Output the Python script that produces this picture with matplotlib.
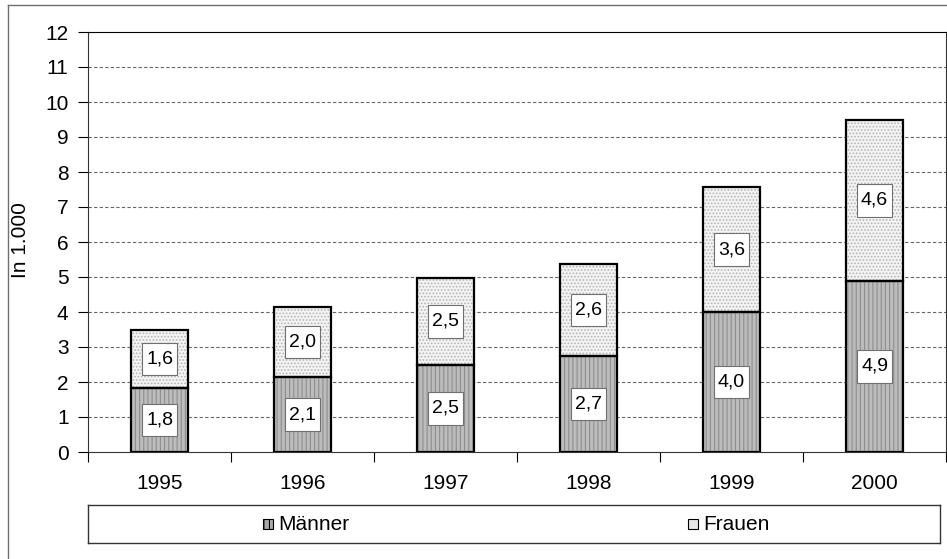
import matplotlib
matplotlib.use("Agg")
import matplotlib.pyplot as plt
from matplotlib.patches import Rectangle
from matplotlib.lines import Line2D
from matplotlib.path import Path
import numpy as np

plt.rcParams['font.family'] = ['Liberation Sans', 'DejaVu Sans']
plt.rcParams['hatch.linewidth'] = 0.8

# data (in 1.000)
years = ['1995', '1996', '1997', '1998', '1999', '2000']
maenner = [1.84, 2.14, 2.49, 2.74, 4.0, 4.89]
frauen = [1.64, 2.0, 2.48, 2.64, 3.57, 4.6]
labels_m = ['1,8', '2,1', '2,5', '2,7', '4,0', '4,9']
labels_f = ['1,6', '2,0', '2,5', '2,6', '3,6', '4,6']

W, H = 947, 559
fig = plt.figure(figsize=(W / 100, H / 100), dpi=100)
ax = fig.add_axes([88 / W, (H - 452) / H, 858 / W, 420 / H])

x = np.arange(len(years))
bw = 0.405

# hatched fills
ax.bar(x, maenner, bw, color='#bcbcbc', edgecolor='#8e8e8e', hatch='||||', linewidth=0, zorder=2)
ax.bar(x, frauen, bw, bottom=maenner, color='#f4f4f4', edgecolor='#b4b4b4', hatch='.....', linewidth=0, zorder=2)
# outlines
ax.bar(x, maenner, bw, fill=False, edgecolor='black', linewidth=1.6, zorder=3)
ax.bar(x, frauen, bw, bottom=maenner, fill=False, edgecolor='black', linewidth=1.6, zorder=3)


def label_box(x0, y0, width, height, mutation_size):
    # more padding above/below than left/right
    px = 0.2 * mutation_size
    py = 0.4 * mutation_size
    x0, y0 = x0 - px, y0 - py
    x1, y1 = x0 + width + 2 * px, y0 + height + 2 * py
    return Path([(x0, y0), (x1, y0), (x1, y1), (x0, y1), (x0, y0)], closed=True)


box = dict(boxstyle=label_box, facecolor='white', edgecolor='#707070', linewidth=0.8)
for i in range(len(years)):
    ax.text(x[i], maenner[i] / 2, labels_m[i], ha='center', va='center', fontsize=14, bbox=box, zorder=4)
    ax.text(x[i], maenner[i] + frauen[i] / 2, labels_f[i], ha='center', va='center', fontsize=14, bbox=box, zorder=4)

ax.set_xlim(-0.5, 5.5)
ax.set_ylim(0, 12)
ax.set_yticks(range(0, 13))
ax.tick_params(axis='y', labelsize=15, length=7, width=0.8, direction='out', pad=7)
ax.set_xticks(x)
ax.set_xticklabels(years)
ax.tick_params(axis='x', which='major', length=0, labelsize=15, pad=16)
ax.set_xticks(np.arange(-0.5, 6, 1), minor=True)
ax.tick_params(axis='x', which='minor', length=7, width=0.8, direction='out')

for y in range(1, 12):
    ax.axhline(y, color='#666666', linestyle=(0, (3, 2)), linewidth=0.8, zorder=1)

for s in ['left', 'bottom', 'top', 'right']:
    ax.spines[s].set_linewidth(0.8)
    ax.spines[s].set_color('#333333')
ax.spines['top'].set_color('black')

fig.text(21 / W, (H - 240) / H, 'In 1.000', rotation=90, ha='center', va='center', fontsize=15)

# legend box
lax = fig.add_axes([88 / W, (H - 543) / H, 852 / W, 38 / H])
lax.set_xlim(0, 1)
lax.set_ylim(0, 1)
lax.set_xticks([])
lax.set_yticks([])
for s in lax.spines.values():
    s.set_linewidth(1.0)
    s.set_color('#333333')
mw = 10 / 852
mh = 10 / 38
lax.add_patch(Rectangle((0.205, 0.5 - mh / 2), mw, mh, facecolor='#a8a8a8', edgecolor='black', linewidth=0.8, hatch='|||'))
lax.text(0.205 + mw + 0.006, 0.48, 'Männer', ha='left', va='center', fontsize=15)
lax.add_patch(Rectangle((0.704, 0.5 - mh / 2), mw, mh, facecolor='#e8e8e8', edgecolor='black', linewidth=0.8))
lax.text(0.704 + mw + 0.006, 0.48, 'Frauen', ha='left', va='center', fontsize=15)

# outer frame
fig.add_artist(Line2D([7.5 / W, 7.5 / W], [0, 1 - 4.5 / H], color='#707070', linewidth=1.0))
fig.add_artist(Line2D([7.5 / W, 1], [1 - 4.5 / H, 1 - 4.5 / H], color='#707070', linewidth=1.0))

fig.savefig('out.png', dpi=100)
